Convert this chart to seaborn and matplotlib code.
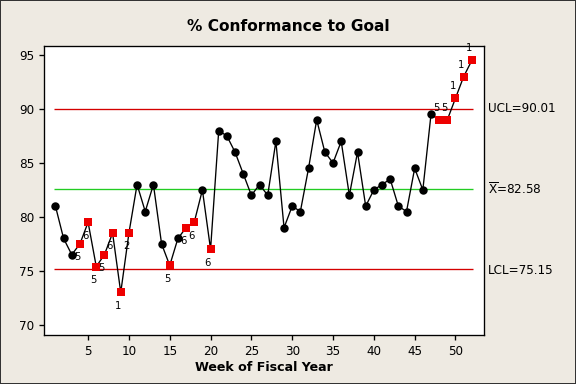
import matplotlib
matplotlib.use("Agg")
import matplotlib.pyplot as plt
import seaborn as sns
import pandas as pd

# weekly % conformance values
weeks = list(range(1, 53))
conformance = [81, 78, 76.5, 77.5, 79.5, 75.4, 76.5, 78.5, 73, 78.5,
               83, 80.5, 83, 77.5, 75.5, 78, 79, 79.5, 82.5, 77,
               88, 87.5, 86, 84, 82, 83, 82, 87, 79, 81,
               80.5, 84.5, 89, 86, 85, 87, 82, 86, 81, 82.5,
               83, 83.5, 81, 80.5, 84.5, 82.5, 89.5, 89, 89, 91,
               93, 94.5]

# points flagged by the control chart tests, and the test number
flag_weeks = [4, 5, 6, 7, 8, 9, 10, 15, 17, 18, 20, 48, 49, 50, 51, 52]
flag_tests = ["5", "6", "5", "5", "6", "1", "2", "5", "6", "6", "6", "5", "5", "1", "1", "1"]

ucl = 90.01
center = 82.58
lcl = 75.15

df = pd.DataFrame({"week": weeks, "pct": conformance})
df["flag"] = df["week"].isin(flag_weeks)

sns.set_style("white")
plt.rcParams["font.family"] = ["DejaVu Sans"]
plt.rcParams["text.color"] = "black"
plt.rcParams["axes.labelcolor"] = "black"

fig = plt.figure(figsize=(6, 4), dpi=96, facecolor="#EEEAE2")
fig.patch.set_edgecolor("#333333")
fig.patch.set_linewidth(1.5)
ax = fig.add_axes([0.0764, 0.128, 0.764, 0.752])
ax.set_facecolor("white")

ax.hlines([ucl, lcl], 0.8, 52.2, color="#d40000", lw=1)
ax.hlines(center, 0.8, 52.2, color="#22cc22", lw=1)

sns.lineplot(data=df, x="week", y="pct", color="black", lw=1, ax=ax)
sns.scatterplot(data=df[~df["flag"]], x="week", y="pct", color="black",
                marker="o", s=40, edgecolor="black", linewidth=0, ax=ax, zorder=3)
sns.scatterplot(data=df[df["flag"]], x="week", y="pct", color="#ee0000",
                marker="s", s=44, edgecolor="#ee0000", linewidth=0, ax=ax, zorder=3)

for w, t in zip(flag_weeks, flag_tests):
    v = conformance[w - 1]
    dy = 9 if v > center else -10
    ax.annotate(t, (w, v), xytext=(-2, dy), textcoords="offset points",
                ha="center", va="center", fontsize=7.5, color="black")

ax.set_xlim(-0.4, 53.5)
ax.set_ylim(69.07, 95.83)
ax.set_xticks(range(5, 51, 5))
ax.set_yticks(range(70, 96, 5))
ax.tick_params(axis="both", direction="out", length=4, width=1, labelsize=9,
               left=True, bottom=True, colors="black")
for s in ax.spines.values():
    s.set_color("black")
    s.set_linewidth(1)

ax.set_xlabel("Week of Fiscal Year", fontsize=9.5, fontweight="bold", labelpad=2)
ax.set_ylabel("")
fig.text(0.5, 0.93, "% Conformance to Goal", ha="center", va="center",
         fontsize=11.5, fontweight="bold")

fig.text(0.847, 1 - 109 / 384, f"UCL={ucl:.2f}", va="center", fontsize=9)
fig.text(0.847, 1 - 189 / 384, r"$\overline{\mathrm{X}}$" + f"={center:.2f}",
         va="center", fontsize=9)
fig.text(0.847, 1 - 270 / 384, f"LCL={lcl:.2f}", va="center", fontsize=9)

fig.savefig("out.png", dpi=96, facecolor=fig.get_facecolor(),
            edgecolor=fig.get_edgecolor())
